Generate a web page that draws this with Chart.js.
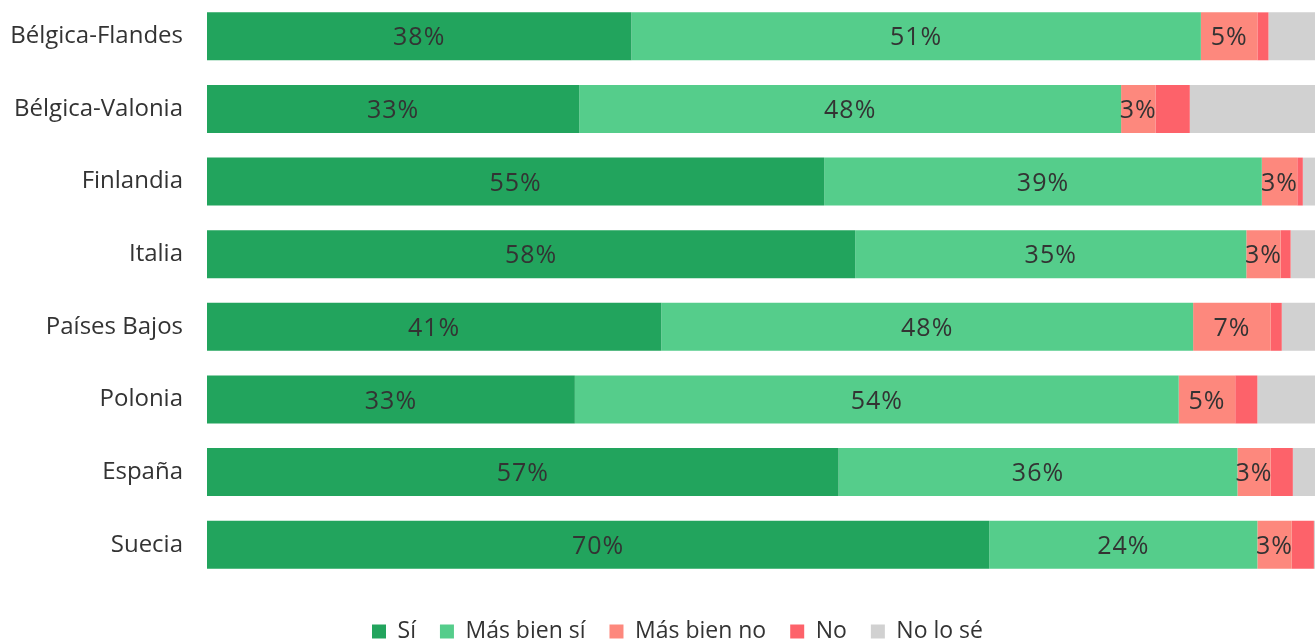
<!DOCTYPE html>
<html>
<head>
<meta charset="utf-8">
<script src="https://cdn.jsdelivr.net/npm/chart.js@4"></script>
<style>
  html, body { margin: 0; padding: 0; background: #fff; }
  #wrap { width: 1315px; height: 644px; }
</style>
</head>
<body>
<div id="wrap"><canvas id="chart"></canvas></div>
<script>
const categories = ['Bélgica-Flandes', 'Bélgica-Valonia', 'Finlandia', 'Italia', 'Países Bajos', 'Polonia', 'España', 'Suecia'];
const si = [38.3, 33.6, 55.7, 58.5, 41.0, 33.2, 57.0, 70.6];
const masBienSi = [51.4, 48.9, 39.5, 35.3, 48.0, 54.5, 36.0, 24.2];
const masBienNo = [5.1, 3.1, 3.2, 3.1, 7.0, 5.1, 3.0, 3.1];
const no = [1.0, 3.1, 0.5, 0.9, 1.0, 2.0, 2.0, 2.0];
const noLoSe = [4.2, 11.3, 1.1, 2.2, 3.0, 5.2, 2.0, 0.1];

const FONT = "'Open Sans', 'Noto Sans', sans-serif";

// draws the % labels in the middle of the first three segments
const barLabels = {
    id: 'barLabels',
    afterDatasetsDraw(chart) {
        let ctx = chart.ctx;
        ctx.save();
        ctx.font = '25px ' + FONT;
        ctx.letterSpacing = '1px';
        ctx.fillStyle = '#333333';
        ctx.textAlign = 'center';
        ctx.textBaseline = 'middle';
        for (let d = 0; d < 3; d++) {
            let meta = chart.getDatasetMeta(d);
            meta.data.forEach((bar, i) => {
                let v = chart.data.datasets[d].data[i];
                let x = (bar.x + bar.base) / 2;
                ctx.fillText(Math.floor(v) + '%', x, bar.y + 2);
            });
        }
        ctx.restore();
    }
};

// nudge the legend a little to the right, like in the original
const legendShift = {
    id: 'legendShift',
    afterLayout(chart) {
        chart.legend.left += 20;
        chart.legend.right += 20;
    }
};

function ds(label, data, color) {
    return {
        label: label,
        data: data,
        backgroundColor: color,
        borderWidth: 0,
        barPercentage: 0.66,
        categoryPercentage: 1.0
    };
}

new Chart(document.getElementById('chart'), {
    type: 'bar',
    data: {
        labels: categories,
        datasets: [
            ds('Sí', si, '#22a45d'),
            ds('Más bien sí', masBienSi, '#55cd8b'),
            ds('Más bien no', masBienNo, '#fd887d'),
            ds('No', no, '#fd626a'),
            ds('No lo sé', noLoSe, '#d1d1d1')
        ]
    },
    options: {
        indexAxis: 'y',
        responsive: true,
        maintainAspectRatio: false,
        animation: false,
        layout: { padding: { top: 0, right: 0, bottom: -9, left: 0 } },
        scales: {
            x: {
                stacked: true,
                min: 0,
                max: 100,
                display: false
            },
            y: {
                stacked: true,
                afterFit(scale) {
                    scale.width = 207;
                    scale.paddingTop = 0;
                    scale.paddingBottom = 0;
                },
                grid: {
                    display: true,
                    drawOnChartArea: false,
                    drawTicks: true,
                    tickLength: 22,
                    color: 'rgba(0,0,0,0)'
                },
                border: { display: false },
                ticks: {
                    color: '#333333',
                    padding: 2,
                    font: { size: 24, family: FONT }
                }
            }
        },
        plugins: {
            tooltip: { enabled: false },
            legend: {
                position: 'bottom',
                title: { display: true, text: ' ', padding: 0, font: { size: 10, lineHeight: 1.5 } },
                labels: {
                    boxWidth: 14,
                    boxHeight: 14,
                    padding: 24,
                    color: '#333333',
                    font: { size: 23, family: FONT }
                }
            }
        }
    },
    plugins: [barLabels, legendShift]
});
</script>
</body>
</html>
